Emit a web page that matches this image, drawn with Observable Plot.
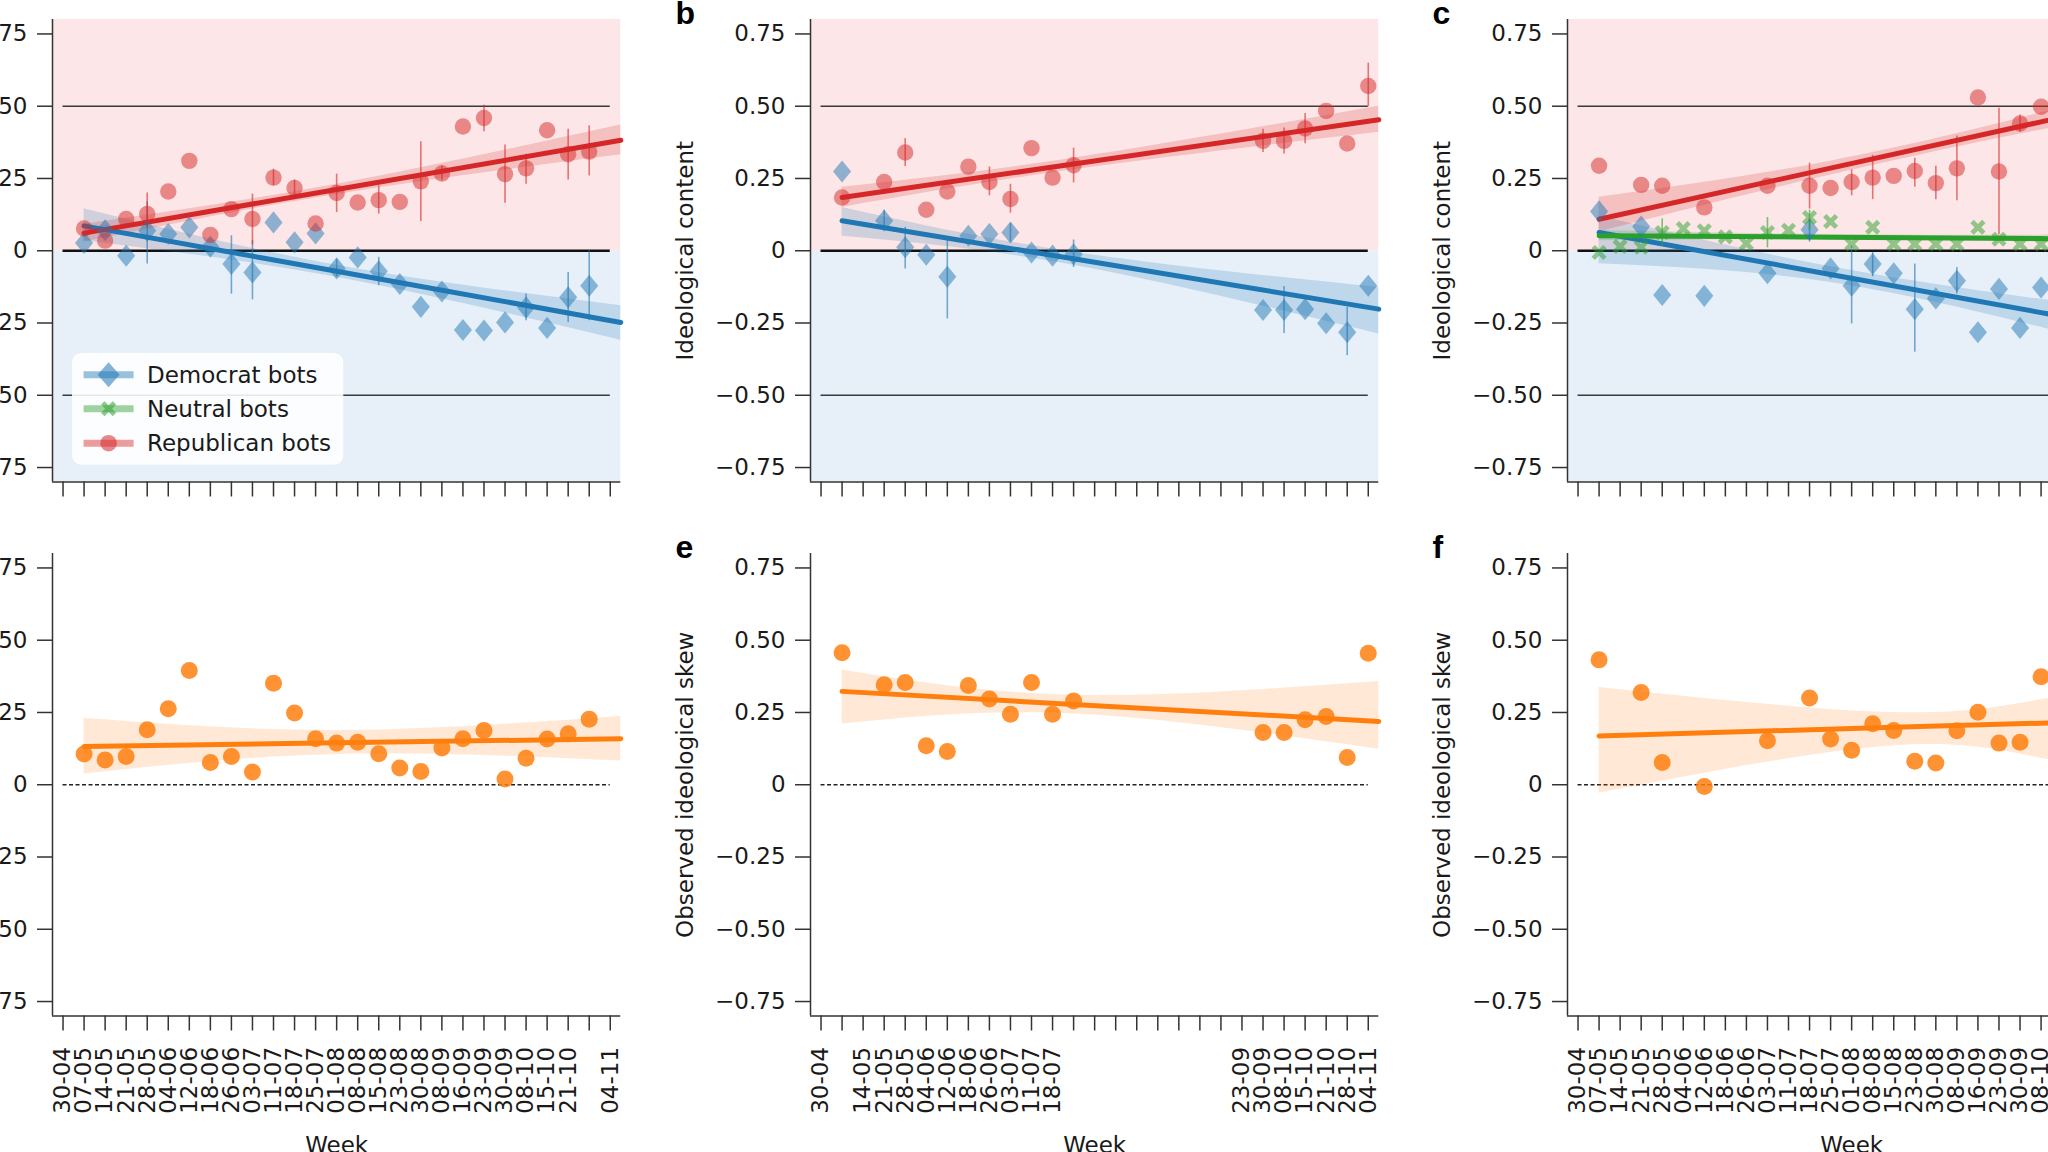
<!DOCTYPE html>
<html><head><meta charset="utf-8">
<script src="https://cdn.jsdelivr.net/npm/d3@7"></script>
<script src="https://cdn.jsdelivr.net/npm/@observablehq/plot@0.6"></script>
<style>
html,body{margin:0;padding:0;background:#fff;width:2048px;height:1152px;overflow:hidden;}
#fig{position:relative;width:2048px;height:1152px;overflow:hidden;font-family:"DejaVu Sans";}
</style></head>
<body><div id="fig"></div>
<script>
// ---------- data ----------
const weeks = ["30-04","07-05","14-05","21-05","28-05","04-06","12-06","18-06","26-06","03-07","11-07","18-07","25-07","01-08","08-08","15-08","23-08","30-08","08-09","16-09","23-09","30-09","08-10","15-10","21-10","28-10","04-11"];
const labelsD = ["30-04","07-05","14-05","21-05","28-05","04-06","12-06","18-06","26-06","03-07","11-07","18-07","25-07","01-08","08-08","15-08","23-08","30-08","08-09","16-09","23-09","30-09","08-10","15-10","21-10","","04-11"];
const labelsE = ["30-04","","14-05","21-05","28-05","04-06","12-06","18-06","26-06","03-07","11-07","18-07","","","","","","","","","23-09","30-09","08-10","15-10","21-10","28-10","04-11"];
const labelsF = weeks;
const yTicks = [-0.75,-0.5,-0.25,0,0.25,0.5,0.75];
const xDomain = [-0.5, 26.5];
const yDomain = [-0.8, 0.8];
const refHalf = [-0.5, 0.5];

// panel a
const aPos = [1,2,3,4,5,6,7,8,9,10,11,12,13,14,15,16,17,18,19,20,21,22,23,24,25];
const aRep = [0.077,0.035,0.11,0.127,0.205,0.311,0.055,0.144,0.11,0.253,0.217,0.094,0.2,0.167,0.175,0.169,0.24,0.267,0.43,0.459,0.265,0.285,0.417,0.334,0.343];
const aDem = [0.027,0.071,-0.017,0.069,0.058,0.081,0.014,-0.046,-0.075,0.098,0.029,0.06,-0.061,-0.023,-0.071,-0.115,-0.194,-0.141,-0.274,-0.276,-0.248,-0.196,-0.267,-0.161,-0.121];
const aRepErr = [[4,0.08,0.2],[9,0.02,0.196],[10,0.225,0.282],[11,0.19,0.245],[13,0.132,0.265],[15,0.127,0.225],[17,0.101,0.377],[18,0.242,0.294],[20,0.412,0.503],[21,0.164,0.366],[22,0.23,0.334],[24,0.245,0.42],[25,0.259,0.432]];
const aDemErr = [[4,-0.046,0.17],[8,-0.15,0.052],[9,-0.17,0.035],[13,-0.09,-0.03],[15,-0.121,-0.023],[22,-0.242,-0.15],[24,-0.248,-0.075],[25,-0.242,0.0]];
const aTrendX = [1,13,26.5];
const aRepLine = [0.061,0.212,0.382], aRepLo = [0.03,0.195,0.332], aRepHi = [0.092,0.23,0.435];
const aDemLine = [0.086,-0.071,-0.248], aDemLo = [0.035,-0.092,-0.31], aDemHi = [0.145,-0.05,-0.19];

// panel b
const bPos = [1,3,4,5,6,7,8,9,10,11,12,21,22,23,24,25,26];
const bRep = [0.184,0.238,0.34,0.142,0.205,0.291,0.238,0.179,0.355,0.253,0.296,0.38,0.38,0.423,0.484,0.371,0.57];
const bDem = [0.274,0.104,0.012,-0.014,-0.09,0.052,0.058,0.063,-0.006,-0.017,-0.012,-0.205,-0.205,-0.202,-0.251,-0.282,-0.121];
const bRepErr = [[4,0.291,0.388],[8,0.19,0.29],[9,0.13,0.23],[12,0.235,0.355],[21,0.34,0.42],[22,0.335,0.425],[23,0.37,0.475],[26,0.498,0.649]];
const bDemErr = [[3,0.07,0.14],[4,-0.063,0.081],[6,-0.236,0.035],[9,0.03,0.095],[12,-0.058,0.037],[22,-0.286,-0.124],[25,-0.363,-0.196]];
const bTrendX = [1,12,26.5];
const bRepLine = [0.184,0.30,0.453], bRepLo = [0.15,0.28,0.41], bRepHi = [0.22,0.32,0.50];
const bDemLine = [0.104,-0.028,-0.202], bDemLo = [0.05,-0.05,-0.288], bDemHi = [0.15,-0.005,-0.127];

// panel c
const cPos = [1,3,4,6,9,11,12,13,14,15,16,17,18,19,20,21,22];
const cRep = [0.294,0.228,0.225,0.15,0.225,0.225,0.217,0.238,0.253,0.259,0.276,0.234,0.285,0.53,0.274,0.44,0.498];
const cDem = [0.136,0.084,-0.153,-0.156,-0.078,0.073,-0.061,-0.121,-0.046,-0.078,-0.202,-0.165,-0.104,-0.282,-0.132,-0.267,-0.127];
const cNeuPos = [1,2,3,4,5,6,7,8,9,10,11,12,13,14,15,16,17,18,19,20,21,22];
const cNeu = [-0.006,0.015,0.012,0.063,0.077,0.069,0.048,0.025,0.063,0.071,0.115,0.101,0.023,0.081,0.023,0.023,0.023,0.023,0.081,0.04,0.023,0.023];
const cRepErr = [[11,0.144,0.303],[13,0.19,0.28],[14,0.177,0.33],[16,0.22,0.32],[17,0.176,0.292],[18,0.173,0.397],[20,0.055,0.493],[21,0.41,0.47]];
const cDemErr = [[11,0.03,0.11],[13,-0.253,0.017],[14,-0.09,-0.005],[16,-0.351,-0.046],[18,-0.15,-0.058]];
const cNeuErr = [[4,0.015,0.11],[9,0.01,0.115],[11,0.07,0.14]];
const cTrendX = [1,12,22,26.5];
const cRepLine = [0.109,0.286,0.446,0.519], cRepLo = [0.065,0.262,0.418,0.47], cRepHi = [0.185,0.31,0.477,0.57];
const cDemLine = [0.063,-0.082,-0.214,-0.273], cDemLo = [-0.045,-0.11,-0.265,-0.34], cDemHi = [0.12,-0.055,-0.168,-0.21];
const cNeuLine = [0.052,0.047,0.042,0.04], cNeuLo = [0.035,0.038,0.03,0.022], cNeuHi = [0.07,0.056,0.054,0.058];

// panel d, e, f (observed ideological skew)
const dPos = [1,2,3,4,5,6,7,8,9,10,11,12,13,14,15,16,17,18,19,20,21,22,23,24,25];
const dVal = [0.106,0.086,0.098,0.19,0.263,0.395,0.077,0.098,0.044,0.351,0.248,0.159,0.144,0.147,0.107,0.058,0.046,0.127,0.159,0.188,0.02,0.092,0.158,0.176,0.227];
const dTrendX = [1,13,26.5], dLine = [0.132,0.145,0.159], dLo = [0.037,0.105,0.082], dHi = [0.23,0.188,0.236];
const ePos = [1,3,4,5,6,7,8,9,10,11,12,21,22,23,24,25,26];
const eVal = [0.457,0.346,0.354,0.135,0.115,0.343,0.297,0.244,0.354,0.244,0.29,0.181,0.181,0.225,0.236,0.094,0.455];
const eTrendX = [1,12,26.5], eLine = [0.323,0.278,0.219], eLo = [0.21,0.245,0.123], eHi = [0.397,0.31,0.357];
const fPos = [1,3,4,6,9,11,12,13,14,15,16,17,18,19,20,21,22];
const fVal = [0.432,0.319,0.077,-0.006,0.152,0.3,0.158,0.119,0.211,0.188,0.081,0.075,0.187,0.251,0.144,0.147,0.374];
const fTrendX = [1,15,22,26.5], fLine = [0.169,0.199,0.213,0.224], fLo = [-0.029,0.135,0.092,0.06], fHi = [0.336,0.25,0.294,0.34];

const legendLabels = ["Democrat bots","Neutral bots","Republican bots"];

// ---------- styles ----------
const C = {red:"#d62728", blue:"#1f77b4", green:"#2ca02c", orange:"#ff7f0e"};
const PINK = "#fce6e7", LBLUE = "#e7eff8", TXT = "#1a1a1a", AXC = "#333";
const AX = [51.7, 809.5, 1567.3];   // axis x per column
const TOPS = [19, 553.3];           // frame top per row
const PW = 568.3, PH = 462.5;
const ML = 150, MR = 12, MT = 30, MB = 150;
const FONT = "DejaVu Sans";

const diamond = {draw(ctx, size){const r=Math.sqrt(size/Math.PI);const h=r*1.35,w=r*1.1;ctx.moveTo(0,-h);ctx.lineTo(w,0);ctx.lineTo(0,h);ctx.lineTo(-w,0);ctx.closePath();}};
const xFilled = {draw(ctx, size){const r=Math.sqrt(size/Math.PI);const a=r*1.15,t=r*0.33;const pts=[[t,a],[t,t],[a,t],[a,-t],[t,-t],[t,-a],[-t,-a],[-t,-t],[-a,-t],[-a,t],[-t,t],[-t,a]];const c=Math.SQRT1_2;pts.forEach(([x,y],i)=>{const X=(x-y)*c,Y=(x+y)*c;i?ctx.lineTo(X,Y):ctx.moveTo(X,Y);});ctx.closePath();}};

const fmtY = d => d === 0 ? "0" : (d < 0 ? "\u2212" : "") + Math.abs(d).toFixed(2);
const weekIdx = weeks.map((_, i) => i);

function S(pos, vals, err, tx, line, lo, hi, color, symbol, r, op, bandOp){
  return {pos, vals, err, tx, line, lo, hi, color, symbol, r, op, bandOp};
}
const rep = (p,v,e,tx,l,lo,hi) => S(p,v,e,tx,l,lo,hi,C.red,"circle",8.2,0.5,0.2);
const dem = (p,v,e,tx,l,lo,hi) => S(p,v,e,tx,l,lo,hi,C.blue,diamond,8.2,0.5,0.2);
const neu = (p,v,e,tx,l,lo,hi) => S(p,v,e,tx,l,lo,hi,C.green,xFilled,7.2,0.5,0.2);
const obs = (p,v,tx,l,lo,hi) => S(p,v,[],tx,l,lo,hi,C.orange,"circle",8.5,0.85,0.17);

const panels = [
  {col:0,row:0,letter:"a",title:"Ideological content",series:[dem(aPos,aDem,aDemErr,aTrendX,aDemLine,aDemLo,aDemHi), rep(aPos,aRep,aRepErr,aTrendX,aRepLine,aRepLo,aRepHi)]},
  {col:1,row:0,letter:"b",title:"Ideological content",series:[dem(bPos,bDem,bDemErr,bTrendX,bDemLine,bDemLo,bDemHi), rep(bPos,bRep,bRepErr,bTrendX,bRepLine,bRepLo,bRepHi)]},
  {col:2,row:0,letter:"c",title:"Ideological content",series:[dem(cPos,cDem,cDemErr,cTrendX,cDemLine,cDemLo,cDemHi), neu(cNeuPos,cNeu,cNeuErr,cTrendX,cNeuLine,cNeuLo,cNeuHi), rep(cPos,cRep,cRepErr,cTrendX,cRepLine,cRepLo,cRepHi)]},
  {col:0,row:1,letter:"d",title:"Observed ideological skew",labels:labelsD,series:[obs(dPos,dVal,dTrendX,dLine,dLo,dHi)]},
  {col:1,row:1,letter:"e",title:"Observed ideological skew",labels:labelsE,series:[obs(ePos,eVal,eTrendX,eLine,eLo,eHi)]},
  {col:2,row:1,letter:"f",title:"Observed ideological skew",labels:labelsF,series:[obs(fPos,fVal,fTrendX,fLine,fLo,fHi)]}
];

const fig = document.getElementById("fig");
const xFirst = weekIdx[0], xLast = weekIdx[weekIdx.length - 1];

for (const p of panels) {
  const marks = [];
  if (p.row === 0) {
    marks.push(Plot.rect([{lo: 0, hi: yDomain[1]}], {y1: "lo", y2: "hi", fill: PINK}));
    marks.push(Plot.rect([{lo: yDomain[0], hi: 0}], {y1: "lo", y2: "hi", fill: LBLUE}));
    marks.push(Plot.ruleY(refHalf, {x1: xFirst, x2: xLast, stroke: "#3a3a3a", strokeWidth: 1.6}));
    marks.push(Plot.ruleY([0], {x1: xFirst, x2: xLast, stroke: "#111", strokeWidth: 2.6}));
  } else {
    marks.push(Plot.ruleY([0], {x1: xFirst, x2: xLast, stroke: "#222", strokeWidth: 1.3, strokeDasharray: "4,2.5"}));
  }
  const rowsOf = s => s.tx.map((x, i) => ({x, y: s.line[i], lo: s.lo[i], hi: s.hi[i]}));
  for (const s of p.series) marks.push(Plot.areaY(rowsOf(s), {x: "x", y1: "lo", y2: "hi", fill: s.color, fillOpacity: s.bandOp, curve: "natural"}));
  for (const s of p.series) marks.push(Plot.line(rowsOf(s), {x: "x", y: "y", stroke: s.color, strokeWidth: 5}));
  for (const s of p.series) {
    marks.push(Plot.ruleX(s.err, {x: d => d[0], y1: d => d[1], y2: d => d[2], stroke: s.color, strokeOpacity: 0.6, strokeWidth: 1.6}));
    marks.push(Plot.dot(s.pos.map((x, i) => ({x, y: s.vals[i]})), {x: "x", y: "y", r: s.r, symbol: s.symbol, fill: s.color, fillOpacity: s.op, stroke: "none"}));
  }
  // spines
  marks.push(Plot.ruleX([xDomain[0]], {stroke: AXC, strokeWidth: 1.5}));
  marks.push(Plot.ruleY([yDomain[0]], {stroke: AXC, strokeWidth: 1.5}));
  // axes
  marks.push(Plot.axisY({ticks: yTicks, tickSize: 15, tickPadding: 10, tickFormat: fmtY, fontSize: 23, strokeWidth: 1.5, stroke: AXC, fill: TXT, label: null}));
  if (p.row === 0) {
    marks.push(Plot.axisX({ticks: weekIdx, tickSize: 15, tickFormat: () => "", strokeWidth: 1.5, stroke: AXC, label: null}));
  } else {
    const lab = p.labels;
    marks.push(Plot.axisX({ticks: weekIdx, tickSize: 15, tickPadding: 16, tickRotate: -90, tickFormat: i => lab[i], fontSize: 23, strokeWidth: 1.5, stroke: AXC, fill: TXT, label: null}));
    marks.push(Plot.text(["Week"], {text: d => d, frameAnchor: "bottom", dy: 121, lineAnchor: "top", textAnchor: "middle", fontSize: 23, fill: TXT}));
  }
  marks.push(Plot.text([p.title], {text: d => d, frameAnchor: "left", rotate: -90, dx: -125, textAnchor: "middle", lineAnchor: "middle", fontSize: 23, fill: TXT}));
  marks.push(Plot.text([p.letter], {text: d => d, frameAnchor: "top-left", dx: -135, dy: 4.5, textAnchor: "start", lineAnchor: "bottom", fontSize: 32, fontWeight: "bold", fontFamily: "Liberation Sans", fill: "#000"}));

  const el = Plot.plot({
    width: ML + PW + MR,
    height: MT + PH + MB,
    marginLeft: ML, marginRight: MR, marginTop: MT, marginBottom: MB,
    x: {type: "linear", domain: xDomain, label: null},
    y: {type: "linear", domain: yDomain, label: null},
    style: {background: "transparent", overflow: "visible", fontFamily: FONT, fontSize: "23px", color: TXT, maxWidth: "none"},
    marks
  });
  el.style.position = "absolute";
  el.style.left = (AX[p.col] - ML) + "px";
  el.style.top = (TOPS[p.row] - MT) + "px";
  fig.appendChild(el);
}

// ---------- legend (panel a) ----------
const legendColors = [C.blue, C.green, C.red];
const legendShapes = ["diamond", "x", "circle"];
const rowY = [21.7, 55.7, 90.2];
function shapePath(kind) {
  if (kind === "diamond") return "M0,-12.5L11,0L0,12.5L-11,0Z";
  if (kind === "circle") return "M8.3,0A8.3,8.3 0 1,1 -8.3,0A8.3,8.3 0 1,1 8.3,0Z";
  const a = 8.3, t = 2.4, c = Math.SQRT1_2;
  const pts = [[t,a],[t,t],[a,t],[a,-t],[t,-t],[t,-a],[-t,-a],[-t,-t],[-a,-t],[-a,t],[-t,t],[-t,a]];
  return pts.map(([x,y],i)=>(i?"L":"M")+((x-y)*c).toFixed(2)+","+((x+y)*c).toFixed(2)).join("")+"Z";
}
let lg = `<svg xmlns="http://www.w3.org/2000/svg" width="272" height="112" style="position:absolute;left:71.7px;top:353.3px;overflow:visible">`;
lg += `<rect x="0" y="0" width="271.3" height="111.7" rx="9" fill="#fff" fill-opacity="0.88"/>`;
legendLabels.forEach((lab, i) => {
  lg += `<g transform="translate(0,${rowY[i]})">`;
  lg += `<line x1="11.6" x2="61.6" y1="0" y2="0" stroke="${legendColors[i]}" stroke-opacity="0.45" stroke-width="7"/>`;
  lg += `<path transform="translate(36.6,0)" d="${shapePath(legendShapes[i])}" fill="${legendColors[i]}" fill-opacity="0.55"/>`;
  lg += `<text x="75" y="0" dy="0.36em" font-family="${FONT}" font-size="23" fill="${TXT}">${lab}</text>`;
  lg += `</g>`;
});
lg += `</svg>`;
fig.insertAdjacentHTML("beforeend", lg);
</script>
</body></html>
